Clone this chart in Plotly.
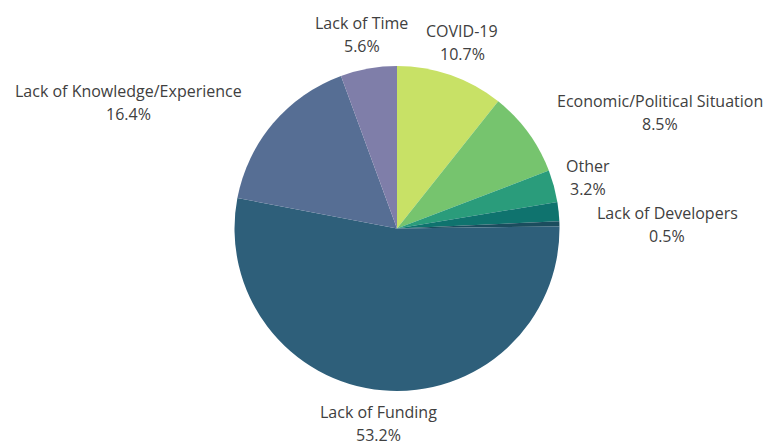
import math
import plotly.graph_objects as go

# Shares of respondents by main obstacle (percent)
categories = [
    "COVID-19",
    "Economic/Political Situation",
    "Other",
    "Lack of Infrastructure",
    "Lack of Developers",
    "Lack of Funding",
    "Lack of Knowledge/Experience",
    "Lack of Time",
]
shares = [10.7, 8.5, 3.2, 1.9, 0.5, 53.2, 16.4, 5.6]
show_label = [True, True, True, False, True, True, True, True]

colors = [
    "#c8e166",
    "#76c46e",
    "#2a9c7b",
    "#0f736e",
    "#1b4d5e",
    "#2e5f7a",
    "#566e94",
    "#7f7ea9",
]

# Figure / pie geometry (pixels)
W, H = 767, 445
CX, CY, R = 397.0, 228.5, 162.5
LABEL_R = R + 18
LINE_GAP = 23  # distance between the name line and the percent line

# Nudges (px, right / down) from the radial anchor point to each label block centre
label_nudge = [
    (5.5, -16.1),
    (117.8, -9.2),
    (16.7, -3.7),
    (0.0, 0.0),
    (89.6, 0.9),
    (-2.2, 15.0),
    (-131.3, -9.7),
    (-3.9, -16.5),
]

font = dict(family="Open Sans", size=16, color="#404040")

fig = go.Figure(
    go.Pie(
        labels=categories,
        values=shares,
        sort=False,
        direction="clockwise",
        rotation=0,
        marker=dict(colors=colors, line=dict(width=0)),
        textinfo="none",
        hoverinfo="skip",
        showlegend=False,
        domain=dict(
            x=[(CX - R) / W, (CX + R) / W],
            y=[(H - CY - R) / H, (H - CY + R) / H],
        ),
    )
)

# Outside labels: name on the first line, percentage below, placed along each slice's mid-angle
total = sum(shares)
cum = 0.0
annotations = []
for name, val, show, (nx, ny) in zip(categories, shares, show_label, label_nudge):
    mid = (cum + val / 2) / total * 2 * math.pi
    cum += val
    if not show:
        continue
    px = CX + LABEL_R * math.sin(mid) + nx
    py = CY - LABEL_R * math.cos(mid) + ny
    for text, dy in ((name, -LINE_GAP / 2), (f"{val:.1f}%", LINE_GAP / 2)):
        annotations.append(
            dict(
                x=px / W,
                y=1 - (py + dy) / H,
                xref="paper",
                yref="paper",
                xanchor="center",
                yanchor="middle",
                text=text,
                showarrow=False,
                font=font,
            )
        )

fig.update_layout(
    width=W,
    height=H,
    margin=dict(l=0, r=0, t=0, b=0),
    paper_bgcolor="white",
    plot_bgcolor="white",
    annotations=annotations,
)

fig.write_html("out.html")
